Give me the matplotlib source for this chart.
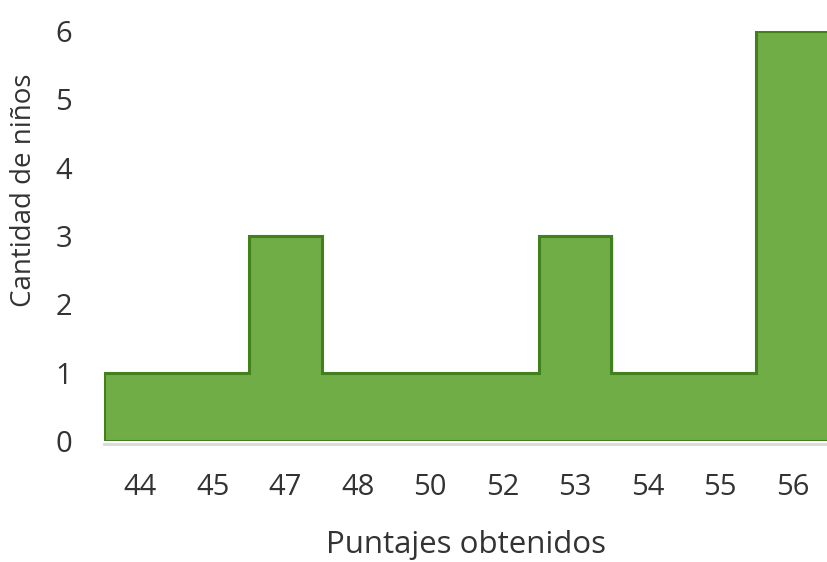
import matplotlib.pyplot as plt
import numpy as np

plt.rcParams['font.family'] = ['Open Sans', 'DejaVu Sans']

puntajes = ['44', '45', '47', '48', '50', '52', '53', '54', '55', '56']
ninos = [1, 1, 3, 1, 1, 1, 3, 1, 1, 6]

fill_color = '#70AD47'
edge_color = '#41801D'
text_color = '#333333'

fig = plt.figure(figsize=(8.27, 5.62), dpi=100)
ax = fig.add_axes([104 / 827, 121 / 562, 725 / 827, 410 / 562])

x = np.arange(len(puntajes))
ax.bar(x, ninos, width=1.0, color=fill_color, edgecolor=fill_color,
       linewidth=1.0, zorder=2)
# outline only around the outer shape of the histogram
edges = np.arange(len(puntajes) + 1) - 0.5
ax.stairs(ninos, edges, baseline=0, fill=False,
          edgecolor=edge_color, linewidth=2.2, zorder=3)
ax.hlines(0, edges[0], edges[-1], color=edge_color, linewidth=2.2, zorder=3)

ax.set_xlim(edges[0], edges[-1])
ax.set_ylim(0, 6)
ax.set_yticks(range(7))
ax.set_xticks(x)
ax.set_xticklabels(puntajes)

for side in ['top', 'right', 'left']:
    ax.spines[side].set_visible(False)
ax.spines['bottom'].set_color('#D9D9D9')
ax.spines['bottom'].set_linewidth(2)
ax.spines['bottom'].set_position(('outward', 2))

ax.tick_params(axis='both', length=0, labelsize=21, colors=text_color)
ax.tick_params(axis='y', pad=23)
ax.tick_params(axis='x', pad=21)

ax.set_xlabel('Puntajes obtenidos', fontsize=22.5, color=text_color, labelpad=20)
ax.set_ylabel('Cantidad de niños', fontsize=20, color=text_color)
ax.yaxis.set_label_coords(-0.091, 0.612)

fig.savefig('out.png', dpi=100)
